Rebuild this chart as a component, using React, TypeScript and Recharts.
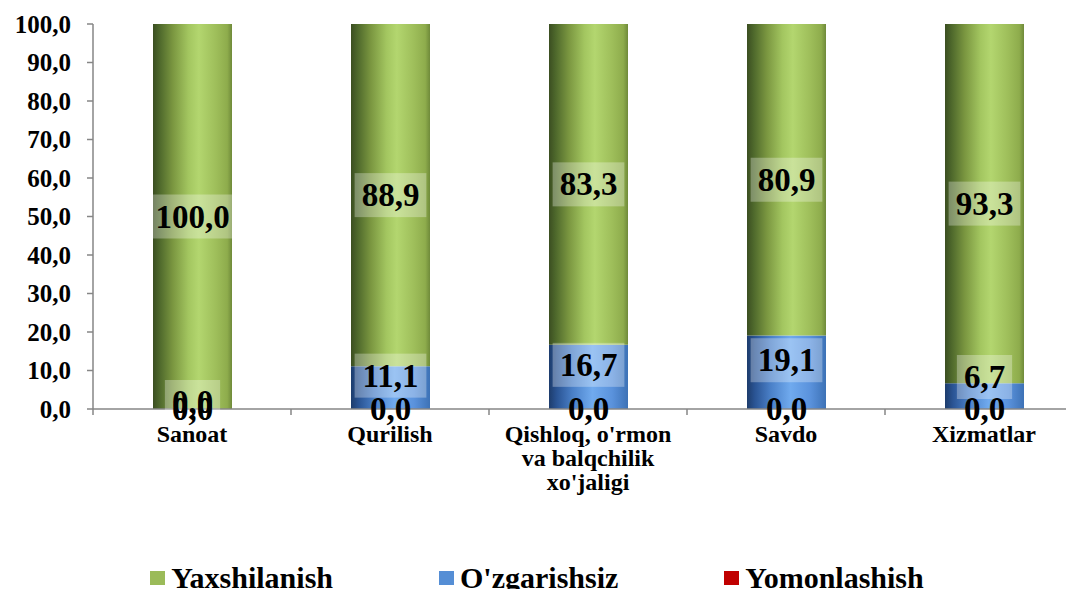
import React from 'react';
import { BarChart, Bar, XAxis, YAxis, LabelList } from 'recharts';

const categories = ['Sanoat', 'Qurilish', "Qishloq, o'rmon\nva balqchilik\nxo'jaligi", 'Savdo', 'Xizmatlar'];
const yaxshilanish = [100.0, 88.9, 83.3, 80.9, 93.3];
const ozgarishsiz = [0.0, 11.1, 16.7, 19.1, 6.7];
const yomonlashish = [0.0, 0.0, 0.0, 0.0, 0.0];
const yTicks = [0, 10, 20, 30, 40, 50, 60, 70, 80, 90, 100];

const data = categories.map((name, i) => ({
  name,
  yomonlashish: yomonlashish[i],
  ozgarishsiz: ozgarishsiz[i],
  yaxshilanish: yaxshilanish[i],
}));

const FONT = "'Liberation Serif', 'DejaVu Serif', Tinos, 'Noto Serif', 'Times New Roman', serif";
const AXIS = '#868686';
const CHART_W = 1090;
const CHART_H = 597;
const Y_W = 93;
const MARGIN = { top: 24, right: 7, left: 0, bottom: 88 };
const CAT_W = (CHART_W - MARGIN.left - MARGIN.right - Y_W) / categories.length;

const fmt = (v: number) => Number(v).toFixed(1).replace('.', ',');

const LABEL_SIZE = 33;
const textWidth = (s: string) => s.split('').reduce((w, c) => w + (c === ',' ? 0.25 : 0.5), 0) * LABEL_SIZE;

const LabelBox = ({ cx, cy, value, maxW }: any) => {
  const s = fmt(value);
  const w = Math.min(textWidth(s) + 14, maxW);
  return (
    <g>
      <rect x={cx - w / 2} y={cy - 22} width={w} height={44} fill="#ffffff" fillOpacity={0.3} />
      <text x={cx} y={cy + 11} textAnchor="middle" fontFamily={FONT} fontWeight="bold" fontSize={LABEL_SIZE} fill="#000">
        {s}
      </text>
    </g>
  );
};

const GreenLabel = (props: any) => {
  const { x, y, width, height, value } = props;
  return <LabelBox cx={x + width / 2} cy={y + height / 2} value={value} maxW={width} />;
};

const BlueLabel = (props: any) => {
  const { x, y, width, height, value } = props;
  if (Number(value) === 0) return null;
  const base = y + height;
  const cy = Math.min(y + height / 2 - 12, base - 32);
  return <LabelBox cx={x + width / 2} cy={cy} value={value} maxW={width} />;
};

// zero-height segments get no label from recharts, so they are drawn from the top segment:
// the stack base is found from the green rect's own px-per-unit
const BaseLabels = (props: any) => {
  const { x, y, width, height, index } = props;
  const g = yaxshilanish[index];
  const below = ozgarishsiz[index] + yomonlashish[index];
  const base = y + height + (g > 0 ? (below * height) / g : 0);
  const cx = x + width / 2;
  return (
    <g>
      {ozgarishsiz[index] === 0 && <LabelBox cx={cx} cy={base - 7} value={0} maxW={width} />}
      <text x={cx} y={base + 11} textAnchor="middle" fontFamily={FONT} fontWeight="bold" fontSize={LABEL_SIZE} fill="#000">
        {fmt(yomonlashish[index])}
      </text>
    </g>
  );
};

const CategoryTick = (props: any) => {
  const { x, y, payload } = props;
  const lines = String(payload.value).split('\n');
  return (
    <g>
      <line x1={x - CAT_W / 2} x2={x - CAT_W / 2} y1={y - 6} y2={y} stroke={AXIS} strokeWidth={1.5} />
      <text textAnchor="middle" fontFamily={FONT} fontWeight="bold" fontSize={24} fill="#000">
        {lines.map((l, i) => (
          <tspan key={i} x={x} y={y + 27 + i * 24}>
            {l}
          </tspan>
        ))}
      </text>
    </g>
  );
};

const legendItems = [
  { name: 'Yaxshilanish', color: '#9bbb59' },
  { name: "O'zgarishsiz", color: '#558ed5' },
  { name: 'Yomonlashish', color: '#c00000' },
];

export default function App() {
  return (
    <div style={{ margin: -8, width: 1074, height: 597, overflow: 'hidden', position: 'relative', background: '#fff' }}>
      <BarChart width={CHART_W} height={CHART_H} data={data} margin={MARGIN}>
        <defs>
          <linearGradient id="gGreen" x1="0" y1="0" x2="1" y2="0">
            <stop offset="0%" stopColor="#3b4e21" />
            <stop offset="8%" stopColor="#4d672b" />
            <stop offset="25%" stopColor="#7a9640" />
            <stop offset="45%" stopColor="#a3c660" />
            <stop offset="58%" stopColor="#b3d66f" />
            <stop offset="80%" stopColor="#9ebe5a" />
            <stop offset="94%" stopColor="#8eac4c" />
            <stop offset="100%" stopColor="#6f8a3a" />
          </linearGradient>
          <linearGradient id="gBlue" x1="0" y1="0" x2="1" y2="0">
            <stop offset="0%" stopColor="#1d3c6c" />
            <stop offset="10%" stopColor="#2a5494" />
            <stop offset="30%" stopColor="#4a80c8" />
            <stop offset="55%" stopColor="#70aaee" />
            <stop offset="80%" stopColor="#5a92dc" />
            <stop offset="100%" stopColor="#3d72b6" />
          </linearGradient>
          <linearGradient id="gRed" x1="0" y1="0" x2="1" y2="0">
            <stop offset="0%" stopColor="#700000" />
            <stop offset="55%" stopColor="#e02020" />
            <stop offset="100%" stopColor="#a00000" />
          </linearGradient>
        </defs>
        <XAxis
          dataKey="name"
          interval={0}
          height={100}
          axisLine={{ stroke: AXIS, strokeWidth: 1.5 }}
          tickLine={false}
          tickSize={6}
          tickMargin={0}
          tick={<CategoryTick />}
        />
        <YAxis
          width={Y_W}
          domain={[0, 100]}
          ticks={yTicks}
          interval={0}
          tickFormatter={fmt}
          axisLine={{ stroke: AXIS, strokeWidth: 1.5 }}
          tickLine={{ stroke: AXIS, strokeWidth: 1.5 }}
          tickSize={6}
          tickMargin={16}
          tick={{ fontFamily: FONT, fontWeight: 'bold', fontSize: 25, fill: '#000' }}
        />
        <Bar dataKey="yomonlashish" stackId="s" fill="url(#gRed)" barSize={79} isAnimationActive={false} />
        <Bar dataKey="ozgarishsiz" stackId="s" fill="url(#gBlue)" barSize={79} isAnimationActive={false}>
          <LabelList dataKey="ozgarishsiz" content={<BlueLabel />} />
        </Bar>
        <Bar dataKey="yaxshilanish" stackId="s" fill="url(#gGreen)" barSize={79} isAnimationActive={false}>
          <LabelList dataKey="yaxshilanish" content={<GreenLabel />} />
          <LabelList dataKey="yomonlashish" content={<BaseLabels />} />
        </Bar>
      </BarChart>
      <div
        style={{
          position: 'absolute',
          top: 561,
          left: 0,
          width: 1074,
          height: 34,
          display: 'flex',
          justifyContent: 'center',
          alignItems: 'center',
          gap: 106,
          fontFamily: FONT,
          fontWeight: 'bold',
          fontSize: 30,
          lineHeight: '34px',
        }}
      >
        {legendItems.map((it) => (
          <div key={it.name} style={{ display: 'flex', alignItems: 'center' }}>
            <span style={{ display: 'inline-block', width: 15, height: 14, background: it.color, marginRight: 6 }} />
            <span>{it.name}</span>
          </div>
        ))}
      </div>
    </div>
  );
}
